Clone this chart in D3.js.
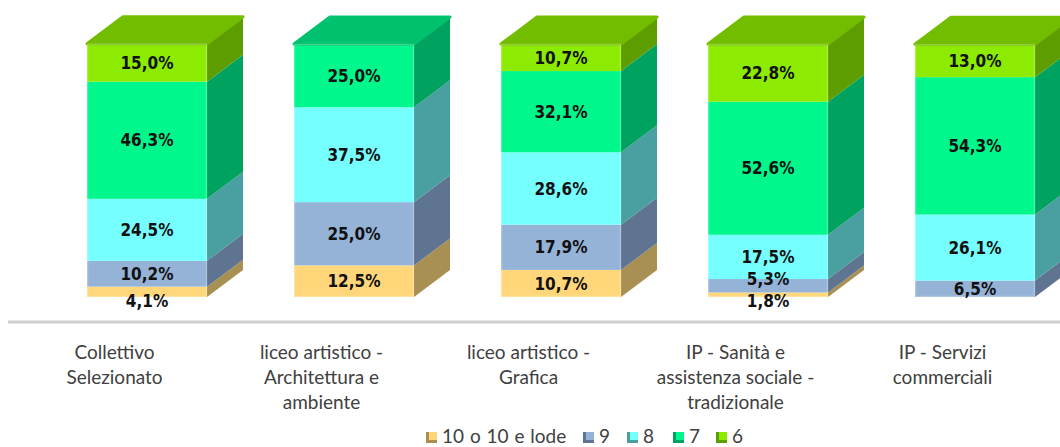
<!DOCTYPE html>
<html>
<head>
<meta charset="utf-8">
<script src="https://cdn.jsdelivr.net/npm/d3@7/dist/d3.min.js"></script>
<style>
  body { margin: 0; background: #fff; }
  .seg-label { font-family: "DejaVu Sans", sans-serif; font-weight: bold; font-stretch: condensed; font-size: 17px; fill: #111; }
  .cat-label { font-family: Lato, "Open Sans", sans-serif; font-size: 19px; fill: #404040; }
  .legend-label { font-family: Lato, "Open Sans", sans-serif; font-size: 19px; word-spacing: 1px; fill: #404040; }
</style>
</head>
<body>
<div id="chart"></div>
<script>
// categories (x axis), each split into its printed lines
var categories = ["Collettivo Selezionato", "liceo artistico - Architettura e ambiente", "liceo artistico - Grafica", "IP - Sanità e assistenza sociale - tradizionale", "IP - Servizi commerciali"];
var categoryLines = [
  ["Collettivo", "Selezionato"],
  ["liceo artistico -", "Architettura e", "ambiente"],
  ["liceo artistico -", "Grafica"],
  ["IP - Sanità e", "assistenza sociale -", "tradizionale"],
  ["IP - Servizi", "commerciali"]
];

// series, from bottom of the stack to top
var seriesNames = ["10 o 10 e lode", "9", "8", "7", "6"];
var voto10 = [4.1, 12.5, 10.7, 1.8, 0];
var voto9  = [10.2, 25.0, 17.9, 5.3, 6.5];
var voto8  = [24.5, 37.5, 28.6, 17.5, 26.1];
var voto7  = [46.3, 25.0, 32.1, 52.6, 54.3];
var voto6  = [15.0, 0, 10.7, 22.8, 13.0];

var front = ["#ffd77a", "#95b3d7", "#75ffff", "#00f78b", "#8ceb00"];
var side  = ["#a88f52", "#5f7490", "#4a9fa0", "#00a25f", "#5e9d00"];
var top_  = ["#d9b862", "#7a95b6", "#5cd6d6", "#00c16d", "#73bd00"];

var width = 1060, height = 447;
var depthX = 36, depthY = 27, barW = 120;

var svg = d3.select("#chart").append("svg")
  .attr("width", width)
  .attr("height", height);

var x = d3.scaleBand()
  .domain(categories)
  .range([11, 1046])
  .padding(0);

var y = d3.scaleLinear()
  .domain([0, 100])
  .range([297, 44]);

var values = [voto10, voto9, voto8, voto7, voto6];
var rows = categories.map(function (c, i) {
  var r = { cat: c };
  seriesNames.forEach(function (s, k) { r[s] = values[k][i]; });
  return r;
});
var stack = d3.stack().keys(seriesNames)(rows);

function frontLeft(c) { return x(c) + x.bandwidth() / 2 - 27.5; }

// floor line
svg.append("line")
  .attr("x1", 8).attr("x2", width)
  .attr("y1", 322).attr("y2", 322)
  .attr("stroke", "#cfcfcf")
  .attr("stroke-width", 3);

var bars = svg.append("g");

categories.forEach(function (c, i) {
  var g = bars.append("g");
  var x0 = frontLeft(c), x1 = x0 + barW;
  var topK = -1;
  stack.forEach(function (layer, k) {
    var d = layer[i];
    if (d[1] - d[0] <= 0) return;
    topK = k;
    var yt = y(d[1]), yb = y(d[0]);
    // side face
    g.append("path")
      .attr("d", "M" + x1 + "," + yt + "L" + (x1 + depthX) + "," + (yt - depthY) +
        "L" + (x1 + depthX) + "," + (yb - depthY) + "L" + x1 + "," + yb + "Z")
      .attr("fill", side[k]);
    // front face
    g.append("rect")
      .attr("x", x0).attr("y", yt)
      .attr("width", barW).attr("height", yb - yt)
      .attr("fill", front[k]);
  });
  // top face
  var yT = y(stack[topK][i][1]);
  g.append("path")
    .attr("d", "M" + x0 + "," + yT + "L" + x1 + "," + yT + "L" + (x1 + depthX) + "," + (yT - depthY) +
      "L" + (x0 + depthX) + "," + (yT - depthY) + "Z")
    .attr("fill", top_[topK])
    .attr("stroke", top_[topK])
    .attr("stroke-width", 3)
    .attr("stroke-linejoin", "round");
  // soft edge highlight on the front
  g.append("rect")
    .attr("x", x0 + 0.5).attr("y", yT + 0.5)
    .attr("width", barW - 1).attr("height", y(0) - yT - 1)
    .attr("fill", "none")
    .attr("stroke", "rgba(255,255,255,0.25)")
    .attr("stroke-width", 1.5);

  // labels, with simple collision handling for thin segments
  var labs = [];
  stack.forEach(function (layer, k) {
    var d = layer[i];
    if (d[1] - d[0] <= 0) return;
    var ym = (y(d[0]) + y(d[1])) / 2;
    labs.push({ v: d[1] - d[0], y: ym, h: y(d[0]) - y(d[1]), k: k });
  });
  if (labs.length && labs[0].h < 12) labs[0].y = y(0) + 4;
  for (var j = 1; j < labs.length; j++) {
    if (labs[j - 1].y - labs[j].y < 22) labs[j].y = labs[j - 1].y - 22;
  }
  labs.forEach(function (l) {
    g.append("text")
      .attr("class", "seg-label")
      .attr("x", x0 + barW / 2)
      .attr("y", l.y)
      .attr("dy", "0.36em")
      .attr("text-anchor", "middle")
      .text(d3.format(".1f")(l.v).replace(".", ",") + "%");
  });
});

// category axis
var axis = svg.append("g")
  .attr("transform", "translate(0,342)")
  .call(d3.axisBottom(x).tickSize(0).tickFormat(""));
axis.select(".domain").remove();
axis.selectAll(".tick").each(function (c, i) {
  var t = d3.select(this).append("text")
    .attr("class", "cat-label")
    .attr("text-anchor", "middle")
    .attr("y", 0);
  categoryLines[i].forEach(function (line, n) {
    t.append("tspan").attr("x", 0).attr("y", 17 + n * 25).text(line);
  });
});

// legend
var legendX = [426, 583, 627, 673, 716];
var legend = svg.append("g").attr("transform", "translate(0,437)");
seriesNames.forEach(function (s, k) {
  var lg = legend.append("g").attr("transform", "translate(" + legendX[k] + ",0)");
  lg.append("rect").attr("x", 0).attr("y", -5).attr("width", 11).attr("height", 11).attr("fill", side[k]);
  lg.append("rect").attr("x", 3).attr("y", -5).attr("width", 8).attr("height", 8).attr("fill", front[k]);
  lg.append("text").attr("class", "legend-label").attr("x", 16).attr("y", 0).attr("dy", "0.33em").text(s);
});
</script>
</body>
</html>
